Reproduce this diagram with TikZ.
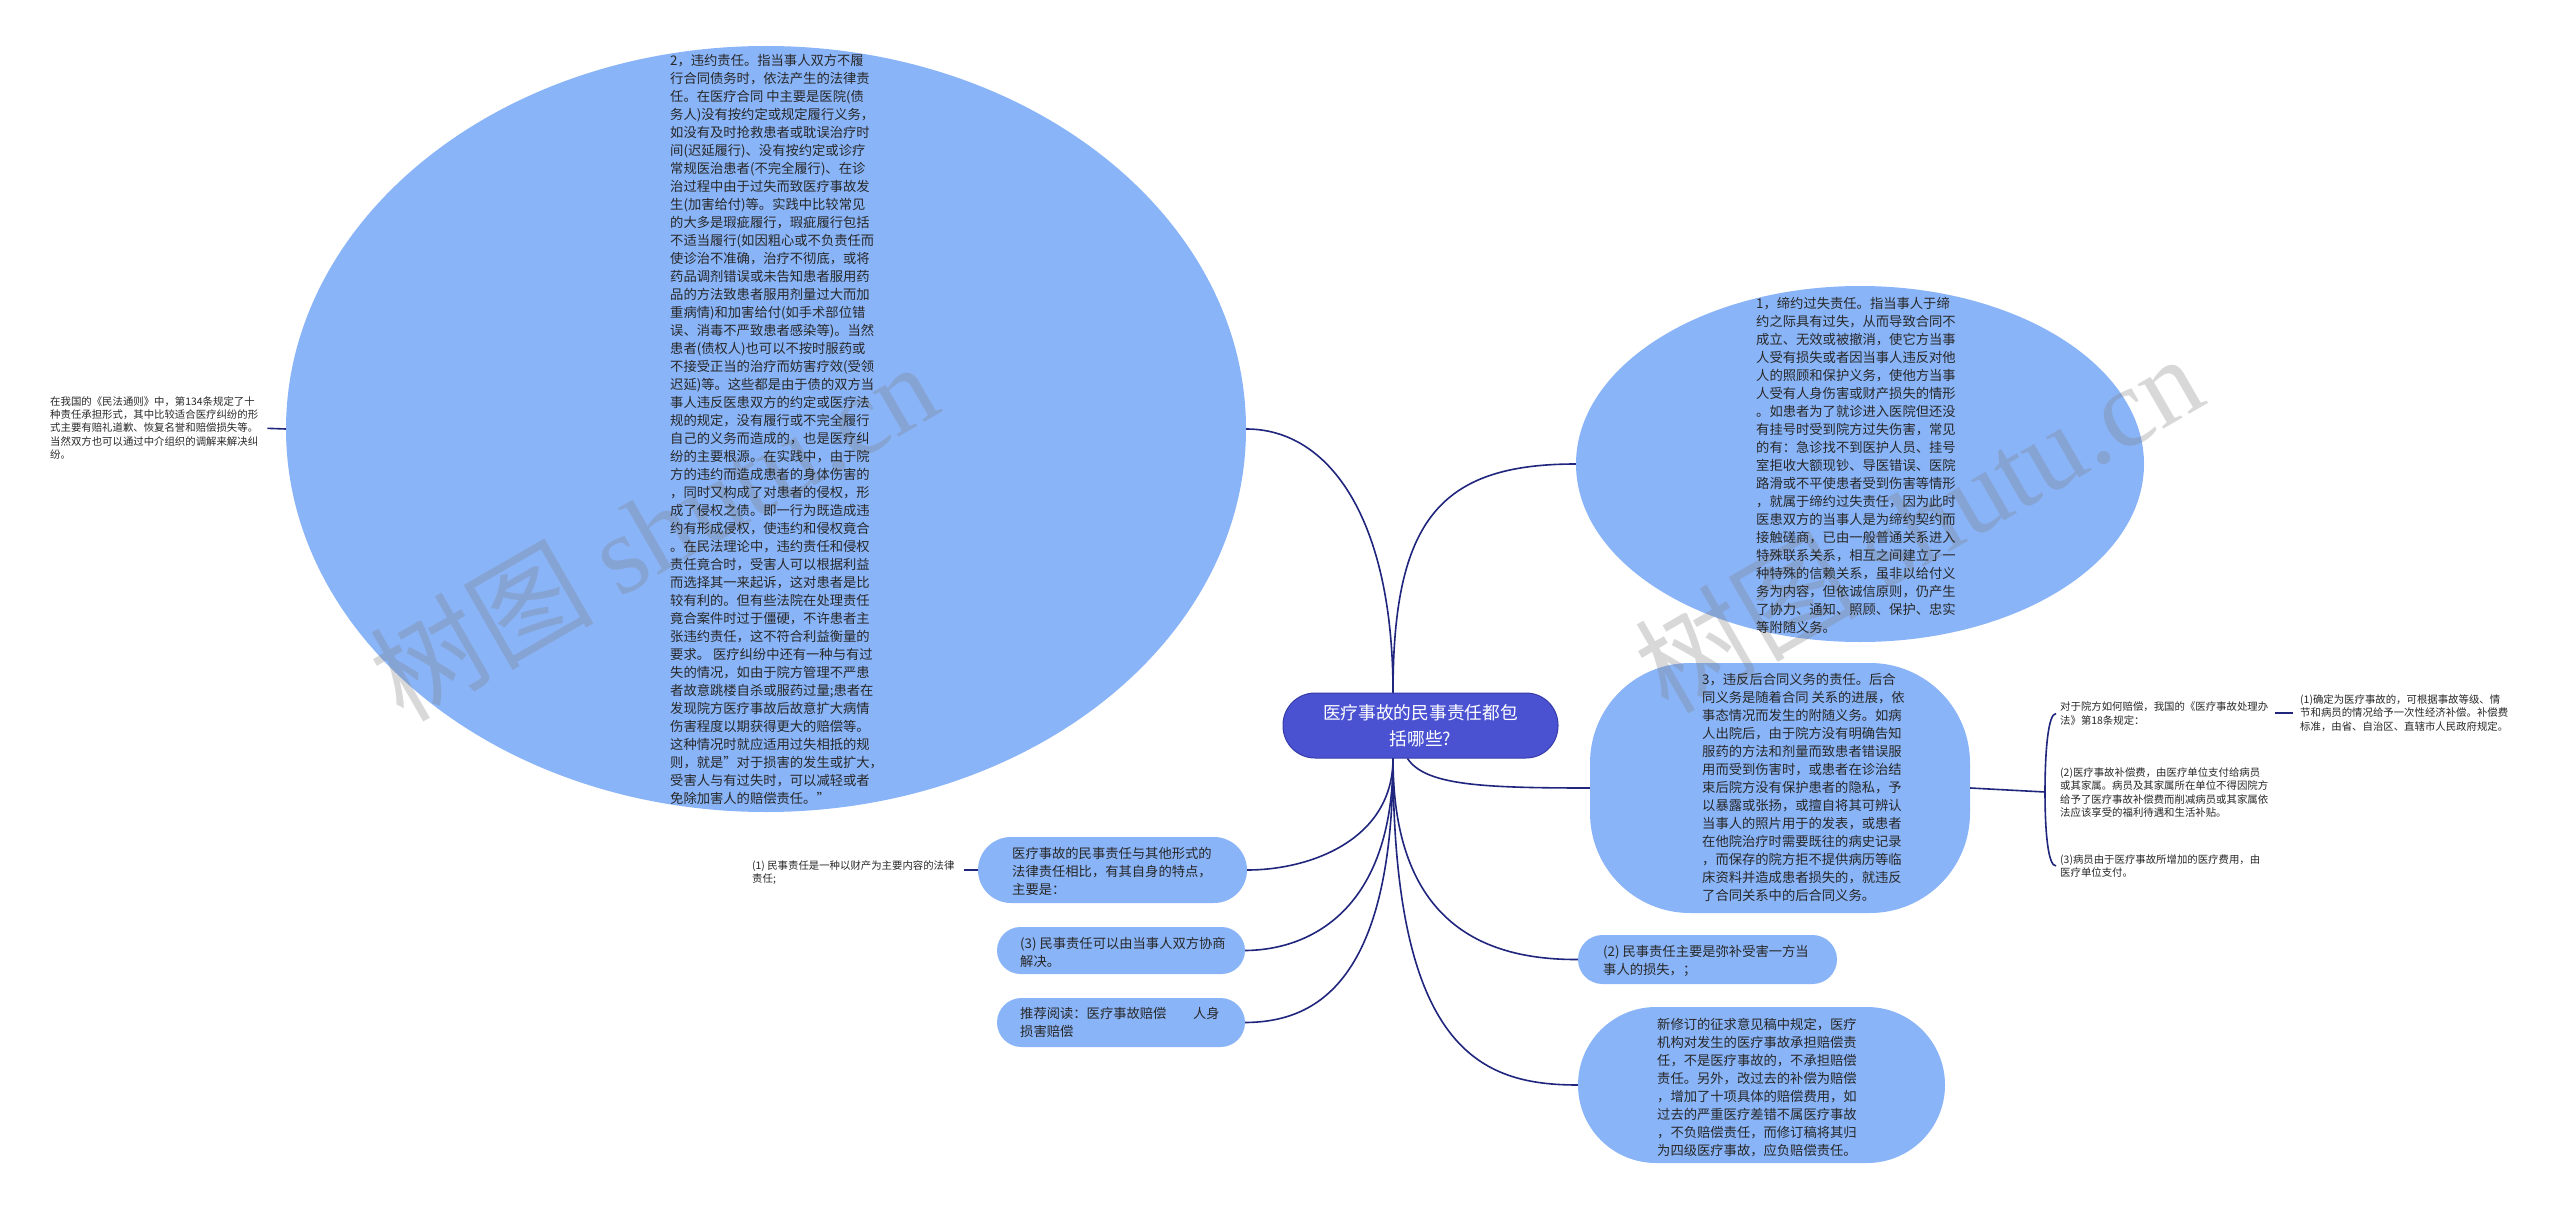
\documentclass[tikz,border=0pt]{standalone}
\usepackage{fontspec}
\setmainfont{Noto Sans CJK SC}
\newfontfamily\wmserif{Liberation Serif}
\usetikzlibrary{shapes.geometric}
\definecolor{bub}{RGB}{138,180,248}
\definecolor{ctr}{RGB}{74,82,210}
\definecolor{ctrb}{RGB}{55,60,170}
\definecolor{lnk}{RGB}{32,38,125}
\definecolor{txt}{RGB}{40,40,40}
\begin{document}
\begin{tikzpicture}[x=1pt,y=-1pt,
  bubble/.style={fill=bub, draw=none, inner sep=0pt},
  ell/.style={bubble, ellipse},
  pill/.style={bubble, rectangle, rounded corners=#1},
  btxt/.style={anchor=west, inner sep=0pt, align=left, text=txt, font=\fontsize{13.3pt}{18pt}\selectfont},
  stxt/.style={anchor=west, inner sep=0pt, align=left, text=txt, font=\fontsize{10.4pt}{13.4pt}\selectfont},
  conn/.style={draw=lnk, line width=1.6pt},
  wmark/.style={rotate=30, text=gray, opacity=0.3, inner sep=0pt, font=\fontsize{112pt}{120pt}\selectfont},
]
\fill[white] (0,0) rectangle (2560,1209);
\useasboundingbox (0,0) rectangle (2560,1209);

% bubbles
\node[ell, minimum width=960pt, minimum height=766pt] (n2) at (766,429) {};
\node[ell, minimum width=568pt, minimum height=356pt] (n1) at (1860,464) {};
\node[pill=100pt, minimum width=380pt, minimum height=250pt] (n3) at (1780,788) {};
\node[pill=24.5pt, minimum width=259pt, minimum height=49pt] (n4) at (1707.5,959.5) {};
\node[pill=78pt, minimum width=367pt, minimum height=156pt] (n5) at (1761.5,1085) {};
\node[pill=33pt, minimum width=269pt, minimum height=66pt] (n6) at (1112.5,870) {};
\node[pill=23.5pt, minimum width=248pt, minimum height=47pt] (n7) at (1121,950.5) {};
\node[pill=24.5pt, minimum width=248pt, minimum height=49pt] (n8) at (1121,1022.5) {};
\node[rectangle, rounded corners=32pt, fill=ctr, draw=ctrb, line width=1pt,
      minimum width=275pt, minimum height=65pt, text=white, align=center,
      font=\fontsize{17.7pt}{26pt}\selectfont] (c) at (1420.5,725.5) {医疗事故的民事责任都包\\括哪些?};

% small texts
\node[stxt] (s0) at (50,428) {在我国的《民法通则》中，第134条规定了十\\种责任承担形式，其中比较适合医疗纠纷的形\\式主要有赔礼道歉、恢复名誉和赔偿损失等。\\当然双方也可以通过中介组织的调解来解决纠\\纷。};
\node[stxt] (s1) at (2060,713.5) {对于院方如何赔偿，我国的《医疗事故处理办\\法》第18条规定：};
\node[stxt] (s1a) at (2300,713) {(1)确定为医疗事故的，可根据事故等级、情\\节和病员的情况给予一次性经济补偿。补偿费\\标准，由省、自治区、直辖市人民政府规定。};
\node[stxt] (s2) at (2060,792.5) {(2)医疗事故补偿费，由医疗单位支付给病员\\或其家属。病员及其家属所在单位不得因院方\\给予了医疗事故补偿费而削减病员或其家属依\\法应该享受的福利待遇和生活补贴。};
\node[stxt] (s3) at (2060,866) {(3)病员由于医疗事故所增加的医疗费用，由\\医疗单位支付。};
\node[stxt] (s4) at (752,872.5) {(1) 民事责任是一种以财产为主要内容的法律\\责任;};

% connectors
\draw[conn] ([xshift=-27.5pt]c.north) .. controls (1393,520) and (1330,429) .. (n2.east);
\draw[conn] ([xshift=-27.5pt]c.north) .. controls (1393,520) and (1440,464) .. (n1.west);
\draw[conn] ([xshift=-13pt]c.south) .. controls (1425,785) and (1480,788) .. (n3.west);
\draw[conn] ([xshift=-27.5pt]c.south) .. controls (1393,840) and (1310,870) .. (n6.east);
\draw[conn] ([xshift=-27.5pt]c.south) .. controls (1393,910) and (1310,950) .. (n7.east);
\draw[conn] ([xshift=-27.5pt]c.south) .. controls (1393,990) and (1310,1022) .. (n8.east);
\draw[conn] ([xshift=-27.5pt]c.south) .. controls (1393,920) and (1480,960) .. (n4.west);
\draw[conn] ([xshift=-27.5pt]c.south) .. controls (1393,1050) and (1480,1085) .. (n5.west);
\draw[conn, shorten <=9pt] (s0.east) -- (n2.west);
\draw[conn, shorten <=9pt] (s4.east |- n6.west) -- (n6.west);
\draw[conn, shorten <=7pt, shorten >=7pt] (s1.east |- s1a.west) -- (s1a.west);
\coordinate (bj) at (2045,792);
\draw[conn] (n3.east) -- (bj);
\draw[conn] ([xshift=-4pt]s1.west) .. controls +(-8,0) and +(0,-40) .. (bj) .. controls +(0,40) and +(-8,0) .. ([xshift=-4pt]s3.west);

% watermarks
\node[wmark] (wm1) at (653,530) {树图 {\wmserif shutu.cn}};
\node[wmark] (wm2) at (1918,522) {树图 {\wmserif shutu.cn}};

% bubble texts
\node[btxt] (t2) at (670,429) {2，违约责任。指当事人双方不履\\行合同债务时，依法产生的法律责\\任。在医疗合同 中主要是医院(债\\务人)没有按约定或规定履行义务，\\如没有及时抢救患者或耽误治疗时\\间(迟延履行)、没有按约定或诊疗\\常规医治患者(不完全履行)、在诊\\治过程中由于过失而致医疗事故发\\生(加害给付)等。实践中比较常见\\的大多是瑕疵履行，瑕疵履行包括\\不适当履行(如因粗心或不负责任而\\使诊治不准确，治疗不彻底，或将\\药品调剂错误或未告知患者服用药\\品的方法致患者服用剂量过大而加\\重病情)和加害给付(如手术部位错\\误、消毒不严致患者感染等)。当然\\患者(债权人)也可以不按时服药或\\不接受正当的治疗而妨害疗效(受领\\迟延)等。这些都是由于债的双方当\\事人违反医患双方的约定或医疗法\\规的规定，没有履行或不完全履行\\自己的义务而造成的，也是医疗纠\\纷的主要根源。在实践中，由于院\\方的违约而造成患者的身体伤害的\\，同时又构成了对患者的侵权，形\\成了侵权之债。即一行为既造成违\\约有形成侵权，使违约和侵权竟合\\。在民法理论中，违约责任和侵权\\责任竟合时，受害人可以根据利益\\而选择其一来起诉，这对患者是比\\较有利的。但有些法院在处理责任\\竟合案件时过于僵硬，不许患者主\\张违约责任，这不符合利益衡量的\\要求。 医疗纠纷中还有一种与有过\\失的情况，如由于院方管理不严患\\者故意跳楼自杀或服药过量;患者在\\发现院方医疗事故后故意扩大病情\\伤害程度以期获得更大的赔偿等。\\这种情况时就应适用过失相抵的规\\则，就是"对于损害的发生或扩大，\\受害人与有过失时，可以减轻或者\\免除加害人的赔偿责任。"};
\node[btxt] (t1) at (1756,465.5) {1，缔约过失责任。指当事人于缔\\约之际具有过失，从而导致合同不\\成立、无效或被撤消，使它方当事\\人受有损失或者因当事人违反对他\\人的照顾和保护义务，使他方当事\\人受有人身伤害或财产损失的情形\\。如患者为了就诊进入医院但还没\\有挂号时受到院方过失伤害，常见\\的有：急诊找不到医护人员、挂号\\室拒收大额现钞、导医错误、医院\\路滑或不平使患者受到伤害等情形\\，就属于缔约过失责任，因为此时\\医患双方的当事人是为缔约契约而\\接触磋商，已由一般普通关系进入\\特殊联系关系，相互之间建立了一\\种特殊的信赖关系，虽非以给付义\\务为内容，但依诚信原则，仍产生\\了协力、通知、照顾、保护、忠实\\等附随义务。};
\node[btxt] (t3) at (1702,787.5) {3，违反后合同义务的责任。后合\\同义务是随着合同 关系的进展，依\\事态情况而发生的附随义务。如病\\人出院后，由于院方没有明确告知\\服药的方法和剂量而致患者错误服\\用而受到伤害时，或患者在诊治结\\束后院方没有保护患者的隐私，予\\以暴露或张扬，或擅自将其可辨认\\当事人的照片用于的发表，或患者\\在他院治疗时需要既往的病史记录\\，而保存的院方拒不提供病历等临\\床资料并造成患者损失的，就违反\\了合同关系中的后合同义务。};
\node[btxt] (t4) at (1603,961) {(2) 民事责任主要是弥补受害一方当\\事人的损失，；};
\node[btxt] (t5) at (1657,1087.5) {新修订的征求意见稿中规定，医疗\\机构对发生的医疗事故承担赔偿责\\任，不是医疗事故的，不承担赔偿\\责任。另外，改过去的补偿为赔偿\\，增加了十项具体的赔偿费用，如\\过去的严重医疗差错不属医疗事故\\，不负赔偿责任，而修订稿将其归\\为四级医疗事故，应负赔偿责任。};
\node[btxt] (t6) at (1012,871.5) {医疗事故的民事责任与其他形式的\\法律责任相比，有其自身的特点，\\主要是：};
\node[btxt] (t7) at (1020,952) {(3) 民事责任可以由当事人双方协商\\解决。};
\node[btxt] (t8) at (1020,1022.5) {推荐阅读：医疗事故赔偿　　人身\\损害赔偿};
\end{tikzpicture}
\end{document}
